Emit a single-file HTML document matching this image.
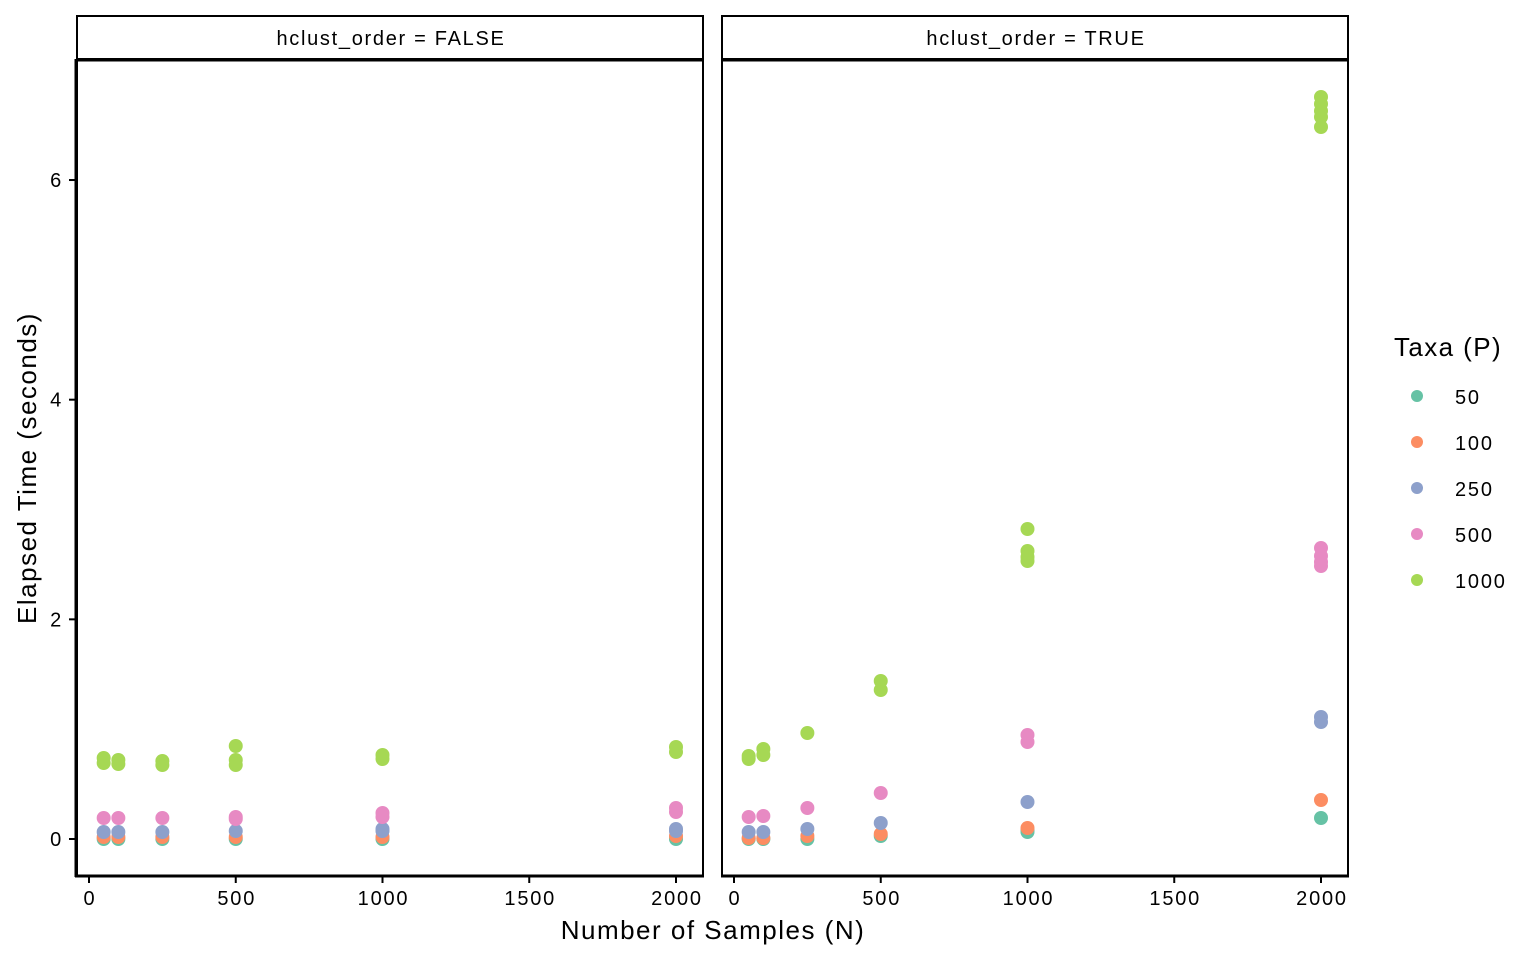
<!DOCTYPE html>
<html><head><meta charset="utf-8"><style>
html,body{margin:0;padding:0;background:#fff;}
svg{display:block;font-family:"Liberation Sans",Arial,sans-serif;}
</style></head><body>
<svg id="s" width="1536" height="960" viewBox="0 0 1536 960" xmlns="http://www.w3.org/2000/svg">
<rect width="1536" height="960" fill="#fff"/>
<rect x="77" y="16" width="626" height="43" fill="#fff" stroke="#000" stroke-width="2"/>
<rect x="722" y="16" width="626" height="43" fill="#fff" stroke="#000" stroke-width="2"/>
<text x="391" y="45" font-size="20" letter-spacing="1.7" text-anchor="middle">hclust_order = FALSE</text>
<text x="1036" y="45" font-size="20" letter-spacing="1.7" text-anchor="middle">hclust_order = TRUE</text>
<rect x="77" y="60" width="626" height="816" fill="none" stroke="#000" stroke-width="2"/>
<rect x="722" y="60" width="626" height="816" fill="none" stroke="#000" stroke-width="2"/>
<line x1="76" y1="59" x2="76" y2="877" stroke="#000" stroke-width="3"/>
<line x1="75" y1="876" x2="704" y2="876" stroke="#000" stroke-width="3"/>
<line x1="721" y1="876" x2="1349" y2="876" stroke="#000" stroke-width="3"/>
<line x1="77" y1="60" x2="703" y2="60" stroke="#000" stroke-width="3"/>
<line x1="722" y1="60" x2="1348" y2="60" stroke="#000" stroke-width="3"/>
<g id="ticks" stroke="#000" stroke-width="2"></g>
<g id="labels" font-size="20" fill="#000" letter-spacing="1.8"></g>
<g id="pts"></g>
<text x="713" y="939" font-size="26" letter-spacing="1.5" text-anchor="middle">Number of Samples (N)</text>
<text transform="translate(36,468) rotate(-90)" font-size="26" letter-spacing="1.5" text-anchor="middle">Elapsed Time (seconds)</text>
<g font-size="20" letter-spacing="1.8">
<text x="1394" y="356" font-size="26" letter-spacing="1.4">Taxa (P)</text>
<circle cx="1417" cy="396" r="6" fill="#66c2a5"/><text x="1455" y="404">50</text>
<circle cx="1417" cy="442" r="6" fill="#fc8d62"/><text x="1455" y="450">100</text>
<circle cx="1417" cy="488" r="6" fill="#8da0cb"/><text x="1455" y="496">250</text>
<circle cx="1417" cy="534" r="6" fill="#e78ac3"/><text x="1455" y="542">500</text>
<circle cx="1417" cy="580" r="6" fill="#a6d854"/><text x="1455" y="588">1000</text>
</g>
</svg>
<script>
var NS="http://www.w3.org/2000/svg";
function el(t,a,p,txt){var e=document.createElementNS(NS,t);for(var k in a)e.setAttribute(k,a[k]);if(txt!==undefined)e.textContent=txt;document.getElementById(p).appendChild(e);}
var x0=[89,734],sc=587/2000;
[0,500,1000,1500,2000].forEach(function(v){[0,1].forEach(function(p){var x=x0[p]+v*sc;el("line",{x1:x,y1:877,x2:x,y2:883},"ticks");el("text",{x:x+1,y:905,"text-anchor":"middle"},"labels",v);});});
[0,2,4,6].forEach(function(v){var y=839-v*109.83;el("line",{x1:69,y1:y,x2:75,y2:y},"ticks");el("text",{x:63,y:y+7,"text-anchor":"end"},"labels",v);});
var C={t:"#66c2a5",o:"#fc8d62",b:"#8da0cb",p:"#e78ac3",g:"#a6d854"};
var N=[50,100,250,500,1000,2000];
var L={t:[[839],[839],[839],[839],[839],[839]],o:[[837],[837],[837],[837],[837],[836]],b:[[832],[832],[832],[831],[831,829],[829,831]],
p:[[818],[818],[818],[817,819],[813,817],[808,812]],g:[[758,763],[760,764],[761,765],[746,760,765],[755,759],[747,752]]};
var R={t:[[839],[839],[839],[836],[830,832],[818]],o:[[838],[838],[836],[834],[828],[800]],b:[[832],[832],[829],[823],[802],[717,722]],
p:[[817],[816],[808],[793],[735,742],[548,556,562,566]],g:[[756,759],[749,755],[733],[681,690],[529,551,557,561],[97,104,111,117,127]]};
["t","o","b","p","g"].forEach(function(k){[L,R].forEach(function(D,p){D[k].forEach(function(ys,i){ys.forEach(function(y){el("circle",{cx:x0[p]+N[i]*sc,cy:y,r:7,fill:C[k]},"pts");});});});});
</script>
</body></html>
